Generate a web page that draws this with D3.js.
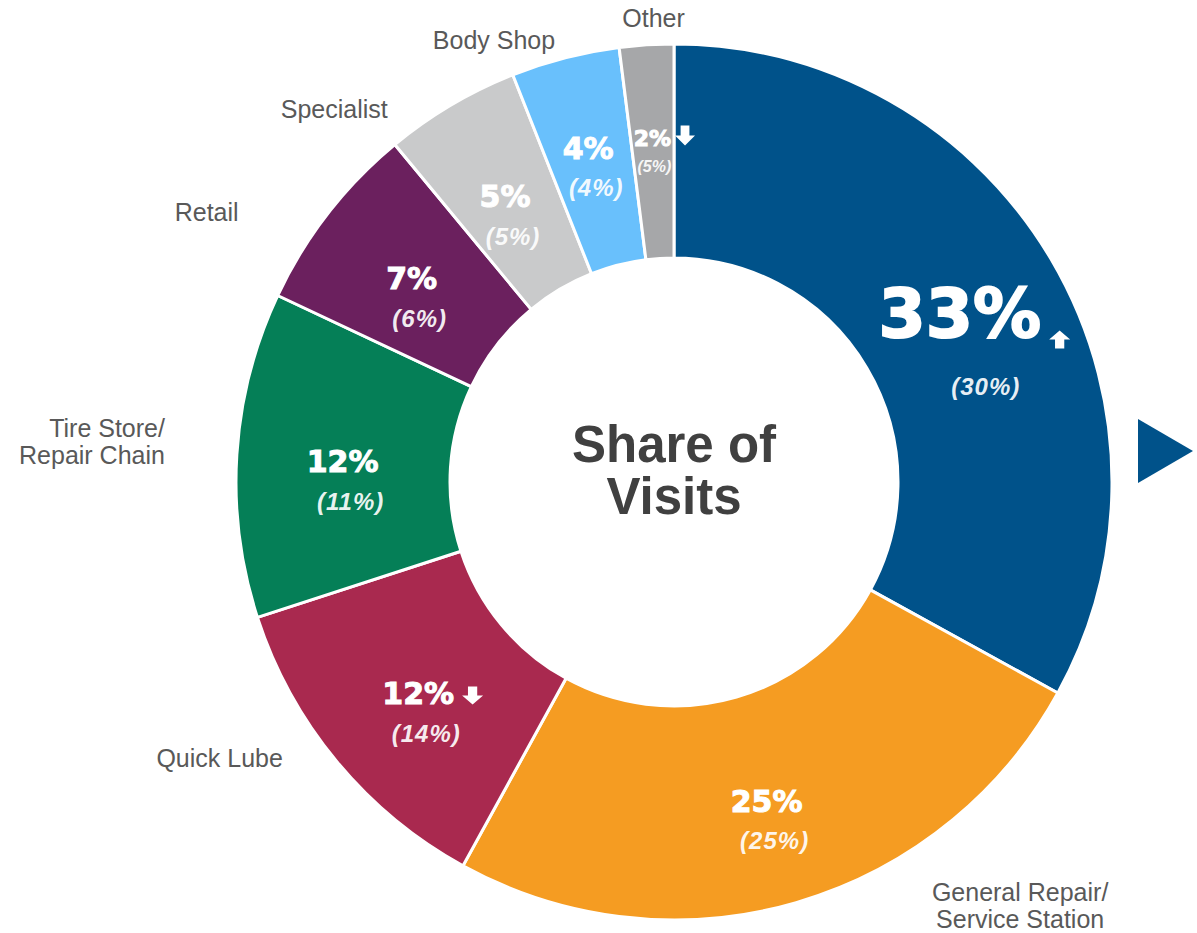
<!DOCTYPE html>
<html>
<head>
<meta charset="utf-8">
<style>
  body { margin: 0; background: #fff; }
  svg { display: block; }
</style>
<script src="https://cdn.jsdelivr.net/npm/d3@7"></script>
</head>
<body>
<div id="chart"></div>
<script>
// clockwise from 12 o'clock
var categories = ["Dealer", "General Repair/Service Station", "Quick Lube", "Tire Store/Repair Chain",
                  "Retail", "Specialist", "Body Shop", "Other"];
var outerLabels = [[], ["General Repair/", "Service Station"], ["Quick Lube"], ["Tire Store/", "Repair Chain"],
                   ["Retail"], ["Specialist"], ["Body Shop"], ["Other"]];
var share = [33, 25, 12, 12, 7, 5, 4, 2];
var priorShare = [30, 25, 14, 11, 6, 5, 4, 5];
var trend = ["up", "", "down", "", "", "", "", "down"];
var colors = ["#00528A", "#F59C22", "#A9294F", "#057F57", "#6B205E", "#C9CACB", "#69C0FC", "#A6A7A9"];

var width = 1197, height = 933;
var cx = 674, cy = 482;
var outerR = 438, innerR = 224;

// nudges for the outside category labels (dx, dy, anchor)
var labelNudge = {
  "General Repair/Service Station": [215, -32, "middle"],
  "Quick Lube": [-29, -15, "end"],
  "Tire Store/Repair Chain": [-40, -16, "end"],
  "Retail": [-64, 27, "end"],
  "Specialist": [-47, 41, "end"],
  "Body Shop": [-2, 22, "end"],
  "Other": [9, 14, "middle"]
};

var data = categories.map(function(c, i) {
  return { name: c, value: share[i], prior: priorShare[i], trend: trend[i], lines: outerLabels[i], color: colors[i] };
});

var svg = d3.select("#chart")
  .append("svg")
    .attr("width", width)
    .attr("height", height);

var pie = d3.pie()
  .value(function(d) { return d.value; })
  .sort(null);

var arc = d3.arc().innerRadius(innerR).outerRadius(outerR);
var outerArc = d3.arc().innerRadius(470).outerRadius(470);
var valueArc = function(d) {
  var r = d.data.value < 5 ? 345 : 332;
  return d3.arc().innerRadius(r).outerRadius(r).centroid(d);
};

var g = svg.append("g").attr("transform", "translate(" + cx + "," + cy + ")");
var arcs = pie(data);

g.selectAll("path.slice")
  .data(arcs)
  .enter().append("path")
    .attr("class", "slice")
    .attr("d", arc)
    .attr("fill", function(d) { return d.data.color; })
    .attr("stroke", "#fff")
    .attr("stroke-width", 3)
    .attr("stroke-linejoin", "round");

// percentage labels
function arrowPath(w, h, dir) {
  var s = w * 0.22, m = h * 0.5;
  var pts = [[-s, 0], [-s, -m], [-w / 2, -m], [0, -h], [w / 2, -m], [s, -m], [s, 0]];
  if (dir === "down") pts = pts.map(function(p) { return [p[0], -h - p[1]]; });
  return "M" + pts.join("L") + "Z";
}

arcs.forEach(function(d, i) {
  var c = valueArc(d);
  var big = i === 0;
  var small = d.data.value < 3;
  var fs = big ? 68 : small ? 22 : 30;
  var sfs = small ? 16 : 24;
  var base = c[1] + fs * 0.36;

  var t = g.append("text")
    .attr("x", c[0])
    .attr("y", base)
    .attr("text-anchor", "middle")
    .attr("font-family", "'DejaVu Sans', sans-serif")
    .attr("font-weight", "bold")
    .attr("font-size", fs)
    .attr("fill", "#fff")
    .attr("stroke", "#fff")
    .attr("stroke-width", big ? 2 : 1)
    .text(d.data.value + "%");

  if (d.data.trend) {
    var tw = t.node().getComputedTextLength();
    var aw = small ? 20 : 21, ah = small ? 20 : 18;
    var gap = small ? 4 : 8;
    g.append("path")
      .attr("d", arrowPath(aw, ah, d.data.trend))
      .attr("transform", "translate(" + (c[0] + tw / 2 + gap + aw / 2) + "," + (base + (big ? 11 : 0)) + ")")
      .attr("fill", "#fff");
  }

  g.append("text")
    .attr("x", c[0] + (big ? 26 : small ? 2 : 8))
    .attr("y", base + fs * 0.5 + sfs * (big ? 1.0 : 0.95))
    .attr("text-anchor", "middle")
    .attr("font-family", "'Liberation Sans', Arial, sans-serif")
    .attr("font-weight", "bold")
    .attr("font-style", "italic")
    .attr("font-size", sfs)
    .attr("letter-spacing", small ? 0 : 1)
    .attr("fill", "#fff")
    .attr("fill-opacity", 0.92)
    .text("(" + d.data.prior + "%)");
});

// outside category labels
arcs.forEach(function(d) {
  if (!d.data.lines.length) return;
  var p = outerArc.centroid(d);
  var n = labelNudge[d.data.name];
  var t = g.append("text")
    .attr("text-anchor", n[2])
    .attr("font-family", "'Liberation Sans', Arial, sans-serif")
    .attr("font-size", 25)
    .attr("fill", "#595959");
  d.data.lines.forEach(function(line, k) {
    t.append("tspan")
      .attr("x", p[0] + n[0])
      .attr("y", p[1] + n[1] + k * 27)
      .text(line);
  });
});

// centre title
var title = g.append("text")
  .attr("text-anchor", "middle")
  .attr("font-family", "'Liberation Sans', Arial, sans-serif")
  .attr("font-weight", "bold")
  .attr("font-size", 51)
  .attr("fill", "#404040");
title.append("tspan").attr("x", 0).attr("y", -20).text("Share of");
title.append("tspan").attr("x", 0).attr("y", 32).text("Visits");

// pointer triangle on the right
svg.append("path")
  .attr("d", d3.line()([[1138, 419], [1193, 451], [1138, 483]]) + "Z")
  .attr("fill", colors[0]);
</script>
</body>
</html>
